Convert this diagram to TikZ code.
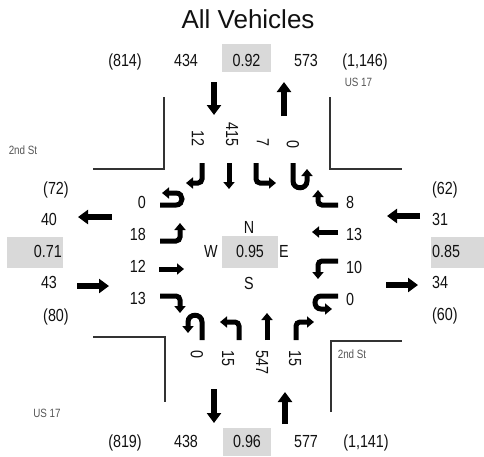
\documentclass[tikz,border=0pt]{standalone}
\usepackage{fontspec}
\setmainfont{Liberation Sans}[FakeStretch=0.82]
\newfontfamily\titlefont{Liberation Sans}
\usetikzlibrary{arrows.meta}
\definecolor{boxgray}{HTML}{D9D9D9}
\definecolor{txt}{HTML}{111111}
\definecolor{lbl}{HTML}{555555}
\definecolor{curbc}{HTML}{333333}
\begin{document}
\begin{tikzpicture}[x=1pt,y=-1pt,
  num/.style={font=\fontsize{17.5}{20}\selectfont, text=txt, inner sep=0pt},
  small/.style={font=\fontsize{12}{14}\selectfont, text=lbl, inner sep=0pt},
  lane/.style={draw=black, line width=5pt, -{Triangle[length=7pt,width=11pt]}, rounded corners=4pt},
  bigarrow/.style={draw=black, line width=6pt, -{Triangle[length=10pt,width=14pt]}},
  curbline/.style={draw=curbc, line width=1.8pt},
  gbox/.style={fill=boxgray}]
\useasboundingbox (0,0) rectangle (484,456);
% title
\node[font=\titlefont\fontsize{26}{30}\selectfont, text=txt, inner sep=0pt, anchor=base] (title) at (248,28) {All Vehicles};
% grey boxes
\fill[gbox] (222,44) rectangle (271,72);
\fill[gbox] (223,428) rectangle (271,456);
\fill[gbox] (7,237) rectangle (63,268);
\fill[gbox] (431,237) rectangle (484,268);
\fill[gbox] (222,236) rectangle (278,268);
% curb lines
\draw[curbline] (164,97) -- (164,169) -- (93,169);
\draw[curbline] (330,97) -- (330,169) -- (402,169);
\draw[curbline] (93,337) -- (165,337) -- (165,402);
\draw[curbline] (331,412) -- (331,341) -- (402,341);
% street labels
\node[small] (st1) at (23,150) {2nd St};
\node[small] (us1) at (358.5,82) {US 17};
\node[small] (st2) at (352,354) {2nd St};
\node[small] (us2) at (47,413) {US 17};
% top row
\node[num, anchor=base] (t1) at (125,66) {(814)};
\node[num, anchor=base] (t2) at (186,66) {434};
\node[num, anchor=base] (t3) at (246.5,66) {0.92};
\node[num, anchor=base] (t4) at (306,66) {573};
\node[num, anchor=base] (t5) at (365,66) {(1,146)};
% bottom row
\node[num, anchor=base] (b1) at (125,447) {(819)};
\node[num, anchor=base] (b2) at (186,447) {438};
\node[num, anchor=base] (b3) at (247,447) {0.96};
\node[num, anchor=base] (b4) at (306,447) {577};
\node[num, anchor=base] (b5) at (366,447) {(1,141)};
% left column
\node[num, anchor=base] (l1) at (56,194) {(72)};
\node[num, anchor=base] (l2) at (49,225) {40};
\node[num, anchor=base east] (l3) at (62,257) {0.71};
\node[num, anchor=base] (l4) at (49,288) {43};
\node[num, anchor=base] (l5) at (56,321) {(80)};
% right column
\node[num, anchor=base west] (r1) at (432,194) {(62)};
\node[num, anchor=base west] (r2) at (432,225) {31};
\node[num, anchor=base west] (r3) at (432,257) {0.85};
\node[num, anchor=base west] (r4) at (432,288) {34};
\node[num, anchor=base west] (r5) at (432,320) {(60)};
% centre
\node[num, anchor=base] (cN) at (249,233) {N};
\node[num, anchor=base] (cV) at (250,257) {0.95};
\node[num, anchor=base] (cW) at (211,257) {W};
\node[num, anchor=base] (cE) at (284,257) {E};
\node[num, anchor=base] (cS) at (249,289) {S};
% west lane labels
\node[num, anchor=base east] (w1) at (146,208) {0};
\node[num, anchor=base east] (w2) at (146,240) {18};
\node[num, anchor=base east] (w3) at (146,272) {12};
\node[num, anchor=base east] (w4) at (146,304) {13};
% east lane labels
\node[num, anchor=base west] (e1) at (346,208) {8};
\node[num, anchor=base west] (e2) at (346,240) {13};
\node[num, anchor=base west] (e3) at (346,273) {10};
\node[num, anchor=base west] (e4) at (346,305) {0};
% north lane labels (rotated)
\node[num, rotate=-90, anchor=east] (n1) at (198,147) {12};
\node[num, rotate=-90, anchor=east] (n2) at (232,147) {415};
\node[num, rotate=-90, anchor=east] (n3) at (263,147) {7};
\node[num, rotate=-90, anchor=east] (n4) at (293,149) {0};
% south lane labels (rotated)
\node[num, rotate=-90, anchor=west] (s1) at (197,350) {0};
\node[num, rotate=-90, anchor=west] (s2) at (228,350) {15};
\node[num, rotate=-90, anchor=west] (s3) at (262,350) {547};
\node[num, rotate=-90, anchor=west] (s4) at (295,350) {15};
% big approach arrows
\draw[bigarrow] (214,82) -- (214,115);
\draw[bigarrow] (284,116) -- (284,82);
\draw[bigarrow] (214,389) -- (214,423);
\draw[bigarrow] (285,424) -- (285,392);
\draw[bigarrow] (112,217) -- (78,217);
\draw[bigarrow] (77,286) -- (109,286);
\draw[bigarrow] (420,216) -- (387,216);
\draw[bigarrow] (386,285) -- (418,285);
% north approach lane arrows
\draw[lane] (202,163) -- (202,183) -- (186,183);
\draw[lane] (229,163) -- (229,189);
\draw[lane] (256,163) -- (256,183) -- (276,183);
\draw[lane, rounded corners=0pt] (293,163) -- (293,181) .. controls (293,190) and (307,190) .. (307,181) -- (307,169);
% west approach lane arrows
\draw[lane, rounded corners=0pt] (160,205) -- (176,205) .. controls (184,205) and (184,193) .. (176,193) -- (162,193);
\draw[lane] (160,241) -- (180,241) -- (180,223);
\draw[lane] (159,269) -- (184,269);
\draw[lane] (160,296) -- (180,296) -- (180,313);
% east approach lane arrows
\draw[lane] (338,205) -- (318,205) -- (318,190);
\draw[lane] (338,232) -- (312,232);
\draw[lane] (338,261) -- (318,261) -- (318,279);
\draw[lane, rounded corners=0pt] (338,296) -- (321,296) .. controls (313,296) and (313,309) .. (321,309) -- (332,309);
% south approach lane arrows
\draw[lane, rounded corners=0pt] (202,340) -- (202,322) .. controls (202,313) and (188,313) .. (188,322) -- (188,333);
\draw[lane] (239,340) -- (239,322) -- (220,322);
\draw[lane] (267,340) -- (267,313);
\draw[lane] (296,340) -- (296,322) -- (314,322);
\end{tikzpicture}
\end{document}
